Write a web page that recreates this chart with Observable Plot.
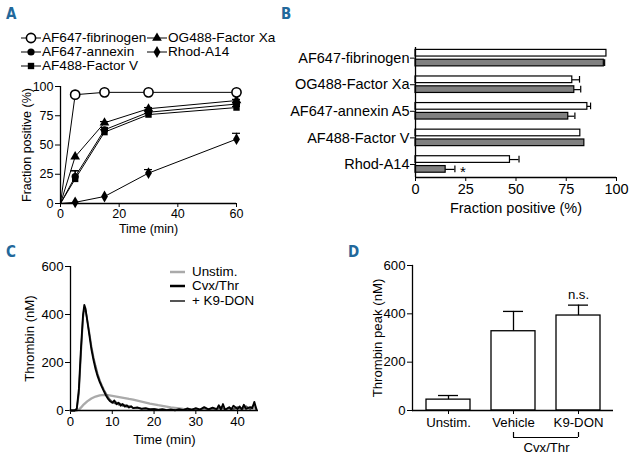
<!DOCTYPE html>
<html><head><meta charset="utf-8">
<script src="https://cdn.jsdelivr.net/npm/d3@7"></script>
<script src="https://cdn.jsdelivr.net/npm/@observablehq/plot@0.6"></script>
<style>
html,body{margin:0;padding:0;background:#fff;}
#fig{position:relative;width:637px;height:464px;overflow:hidden;font-family:"Liberation Sans",Arial,Helvetica,sans-serif;color:#000;}
.tag{position:absolute;font-family:"DejaVu Sans Condensed","DejaVu Sans",sans-serif;font-weight:bold;font-size:15px;line-height:16px;color:#22689b;}
.lg{position:absolute;white-space:nowrap;line-height:12px;}
</style></head><body><div id="fig"></div>
<script>
// ---------------- DATA ----------------
// Panel A: time course (min) vs fraction positive (%), upper error bars
const timeA = [0, 5, 15, 30, 60];
const fibrinogenA = [0, 93, 95, 95, 95];
const annexinA = [0, 23, 63, 78, 85];
const factorVA = [0, 21, 61, 76, 82];
const factorXaA = [0, 40, 69, 81, 88];
const rhodA14A = [0, 1, 6, 26, 55];
const fibrinogenErrA = [0, 0, 0, 0, 0];
const annexinErrA = [0, 5, 2, 1, 1];
const factorVErrA = [0, 7, 2, 1, 1];
const factorXaErrA = [0, 0, 1, 1, 1];
const rhodA14ErrA = [0, 0, 0, 3, 5];

// Panel B: fraction positive (%) per probe, two conditions (open / grey bars)
const catsB = ["AF647-fibrinogen", "OG488-Factor Xa", "AF647-annexin A5", "AF488-Factor V", "Rhod-A14"];
const openB = [95, 78, 85.5, 82, 47];
const openErrB = [0, 3.6, 1.6, 0, 4.5];
const greyB = [93.7, 79, 76, 84, 15];
const greyErrB = [0.4, 3.2, 3.3, 0, 4.6];

// Panel C: thrombin generation curves [time (min), thrombin (nM)]
const unstimC = [[0,0],[1.5,0],[2,4],[2.5,12],[3,22],[4,38],[5,50],[6,58],[7,63],[8,65],[9,64],[10,61],[11,58],[12,55],[13,52],[14,48],[15,45],[16,41],[17,37],[18,33],[19,29],[20,26],[21,22],[22,19],[23,16],[24,13],[25,11],[26,9],[27,7],[28,6],[29,5],[30,4],[31,3],[32,4],[33,3],[34,5],[35,4],[36,6],[37,4],[38,7],[39,5],[40,8],[41,6],[42,9],[43,7],[44,10],[44.5,6]];
const cvxThrC = [[0,0],[1,0],[1.5,8],[2,90],[2.5,260],[3,400],[3.3,440],[3.6,425],[4,375],[4.5,315],[5,255],[5.5,210],[6,172],[6.5,142],[7,118],[7.5,98],[8,80],[8.5,62],[9,48],[9.5,38],[10,32],[10.5,42],[11,26],[11.5,33],[12,20],[12.5,27],[13,16],[13.5,22],[14,12],[14.5,18],[15,10],[16,12],[17,7],[18,9],[19,5],[20,6],[21,3],[22,5],[23,2],[24,4],[25,1],[26,5],[27,2],[28,8],[29,3],[30,10],[31,4],[32,14],[33,5],[34,12],[35,6],[35.5,22],[36,4],[36.5,27],[37,3],[38,14],[38.5,4],[39,20],[40,6],[40.5,17],[41,5],[41.5,24],[42,7],[43,14],[43.5,9],[44,36],[44.5,5]];
const k9donC = [[0,0],[1,0],[1.5,5],[2,70],[2.5,235],[3,385],[3.3,428],[3.6,418],[4,380],[4.5,325],[5,268],[5.5,222],[6,185],[6.5,152],[7,126],[7.5,105],[8,86],[8.5,70],[9,55],[9.5,44],[10,36],[10.5,30],[11,34],[11.5,24],[12,28],[12.5,19],[13,23],[13.5,15],[14,18],[15,11],[16,13],[17,8],[18,10],[19,6],[20,7],[21,4],[22,6],[23,3],[24,5],[25,2],[26,6],[27,3],[28,9],[29,4],[30,7],[31,3],[32,11],[33,4],[34,9],[35,5],[36,16],[37,4],[38,12],[39,6],[40,14],[41,5],[42,18],[43,6],[44,26],[44.5,4]];

// Panel D: thrombin peak (nM)
const groupsD = ["Unstim.", "Vehicle", "K9-DON"];
const peakD = [45, 328, 393];
const peakErrD = [17, 82, 43];

// ---------------- HELPERS ----------------
const FONT = '"Liberation Sans", Arial, Helvetica, sans-serif';
const fig = document.getElementById("fig");
function place(node, left, top) {
  node.style.position = "absolute";
  node.style.left = left + "px";
  node.style.top = top + "px";
  fig.appendChild(node);
  return node;
}
function styleFor(size) {
  return {fontSize: size + "px", fontFamily: FONT, color: "#000", background: "transparent", overflow: "visible"};
}
function tag(txt, left, top) {
  const d = document.createElement("div");
  d.className = "tag"; d.textContent = txt;
  d.style.left = left + "px"; d.style.top = top + "px";
  fig.appendChild(d);
}
function legendText(txt, left, cy, size) {
  const d = document.createElement("div");
  d.className = "lg"; d.textContent = txt;
  d.style.fontSize = size + "px";
  d.style.left = left + "px"; d.style.top = (cy - 6) + "px";
  fig.appendChild(d);
}

// ---------------- PANEL A ----------------
const seriesA = [
  {name: "AF647-fibrinogen", mean: fibrinogenA, err: fibrinogenErrA},
  {name: "AF647-annexin", mean: annexinA, err: annexinErrA},
  {name: "AF488-Factor V", mean: factorVA, err: factorVErrA},
  {name: "OG488-Factor Xa", mean: factorXaA, err: factorXaErrA},
  {name: "Rhod-A14", mean: rhodA14A, err: rhodA14ErrA}
];
const symbolOf = {"AF647-fibrinogen": "circle", "AF647-annexin": "circle", "AF488-Factor V": "square", "OG488-Factor Xa": "triangle", "Rhod-A14": "diamond"};
const openSeries = "AF647-fibrinogen";
const rowsA = seriesA.flatMap(s => timeA.map((t, j) => ({series: s.name, t, v: s.mean[j], e: s.err[j]})));
const filledNames = seriesA.map(s => s.name).filter(n => n !== openSeries);

const plotA = Plot.plot({
  width: 245, height: 160, marginLeft: 60, marginRight: 9, marginTop: 11, marginBottom: 32,
  style: styleFor(12.5),
  x: {domain: [0, 60], ticks: [0, 20, 40, 60], tickSize: 4, tickPadding: 2, label: "Time (min)", labelAnchor: "center", labelOffset: 29, labelArrow: "none"},
  y: {domain: [0, 100], ticks: [0, 25, 50, 75, 100], tickSize: 5, tickPadding: 2, label: "Fraction positive (%)", labelAnchor: "center", labelOffset: 38, labelArrow: "none"},
  symbol: {domain: filledNames, range: filledNames.map(n => symbolOf[n])},
  marks: [
    Plot.ruleX([0], {stroke: "#000", strokeWidth: 1.3}),
    Plot.ruleY([0], {stroke: "#000", strokeWidth: 1.3}),
    Plot.line(rowsA, {x: "t", y: "v", z: "series", stroke: "#000", strokeWidth: 1}),
    Plot.ruleX(rowsA.filter(d => d.e > 0), {x: "t", y1: "v", y2: d => d.v + d.e, stroke: "#000", strokeWidth: 1.2}),
    Plot.ruleY(rowsA.filter(d => d.e > 0), {y: d => d.v + d.e, x1: "t", x2: "t", insetLeft: -4, insetRight: -4, stroke: "#000", strokeWidth: 1.2}),
    Plot.dot(rowsA.filter(d => d.t > 0 && d.series !== openSeries), {x: "t", y: "v", symbol: "series", fill: "#000", r: 3.6}),
    Plot.dot(rowsA.filter(d => d.t > 0 && d.series === openSeries), {x: "t", y: "v", symbol: "circle", fill: "#fff", stroke: "#000", strokeWidth: 1.6, r: 4.6})
  ]
});
place(plotA, 0, 75);

// legend A
const d3sym = {circle: d3.symbolCircle, square: d3.symbolSquare, triangle: d3.symbolTriangle, diamond: d3.symbolDiamond};
function legendSymbol(name, cx, cy) {
  const open = name === openSeries;
  const r = open ? 4.6 : 3.6;
  const svg = d3.create("svg").attr("width", 22).attr("height", 14);
  svg.append("line").attr("x1", 1).attr("x2", 21).attr("y1", 7).attr("y2", 7).attr("stroke", "#000");
  svg.append("path").attr("transform", "translate(11,7)")
    .attr("d", d3.symbol(d3sym[symbolOf[name]], Math.PI * r * r)())
    .attr("fill", open ? "#fff" : "#000").attr("stroke", open ? "#000" : "none").attr("stroke-width", 1.6);
  place(svg.node(), cx - 11, cy - 7);
}
const legendA = [
  ["AF647-fibrinogen", 31, 42, 38], ["OG488-Factor Xa", 157, 168, 38],
  ["AF647-annexin", 31, 42, 52], ["Rhod-A14", 157, 168, 52],
  ["AF488-Factor V", 31, 42, 66]
];
legendA.forEach(([n, cx, tx, cy]) => { legendSymbol(n, cx, cy); legendText(n, tx, cy, 13.6); });

// ---------------- PANEL B ----------------
const yDomB = [-0.4, 4.49];
const rowsB = catsB.flatMap((c, i) => [
  {cat: c, i, cond: "open", v: openB[i], e: openErrB[i]},
  {cat: c, i, cond: "grey", v: greyB[i], e: greyErrB[i]}
]);
const barTop = d => d.i + (d.cond === "open" ? -0.31 : 0.06);
const barBot = d => d.i + (d.cond === "open" ? -0.06 : 0.31);
const barMid = d => (barTop(d) + barBot(d)) / 2;
const plotB = Plot.plot({
  width: 357, height: 175, marginLeft: 135, marginRight: 21, marginTop: 7, marginBottom: 38,
  style: styleFor(14.5),
  x: {domain: [0, 100], ticks: [0, 25, 50, 75, 100], tickSize: 4, tickPadding: 2, label: "Fraction positive (%)", labelAnchor: "center", labelOffset: 35, labelArrow: "none"},
  y: {domain: yDomB, reverse: true, ticks: [0, 1, 2, 3, 4], tickFormat: i => catsB[i], tickSize: 5, tickPadding: 1, label: null},
  marks: [
    Plot.ruleY(rowsB.filter(d => d.e > 0), {y: barMid, x1: "v", x2: d => d.v + d.e, stroke: "#000", strokeWidth: 1.2}),
    Plot.ruleX(rowsB.filter(d => d.e > 0), {x: d => d.v + d.e, y1: barTop, y2: barBot, stroke: "#000", strokeWidth: 1.2}),
    Plot.rect(rowsB.filter(d => d.cond === "open"), {x1: () => 0, x2: "v", y1: barTop, y2: barBot, fill: "#fff", stroke: "#000", strokeWidth: 1.2}),
    Plot.rect(rowsB.filter(d => d.cond === "grey"), {x1: () => 0, x2: "v", y1: barTop, y2: barBot, fill: "#808080", stroke: "#000", strokeWidth: 1.2}),
    Plot.text(rowsB.filter(d => d.cond === "grey" && d.cat === "Rhod-A14"), {x: d => d.v + d.e, y: barMid, text: () => "*", dx: 8, dy: 3, fontSize: 15}),
    Plot.ruleX([0], {stroke: "#000", strokeWidth: 1.3}),
    Plot.ruleY([yDomB[1]], {stroke: "#000", strokeWidth: 1.3})
  ]
});
place(plotB, 280, 40);

// ---------------- PANEL C ----------------
const plotC = Plot.plot({
  width: 300, height: 190, marginLeft: 70, marginRight: 42, marginTop: 11, marginBottom: 35,
  style: styleFor(13.2),
  x: {domain: [0, 45], ticks: [0, 10, 20, 30, 40], tickSize: 4, tickPadding: 2, label: "Time (min)", labelAnchor: "center", labelOffset: 33, labelArrow: "none"},
  y: {domain: [0, 600], ticks: [0, 200, 400, 600], tickSize: 5, tickPadding: 2, label: "Thrombin (nM)", labelAnchor: "center", labelOffset: 46, labelArrow: "none"},
  marks: [
    Plot.line(unstimC, {x: d => d[0], y: d => d[1], stroke: "#aaaaaa", strokeWidth: 2.3}),
    Plot.line(k9donC, {x: d => d[0], y: d => d[1], stroke: "#555555", strokeWidth: 1.8}),
    Plot.line(cvxThrC, {x: d => d[0], y: d => d[1], stroke: "#000", strokeWidth: 1.8}),
    Plot.ruleX([0], {stroke: "#000", strokeWidth: 1.3}),
    Plot.ruleY([0], {stroke: "#000", strokeWidth: 1.3})
  ]
});
place(plotC, 0, 255);

// legend C
[["Unstim.", "#aaaaaa", 2.5, 272], ["Cvx/Thr", "#000", 2.5, 286], ["+ K9-DON", "#555555", 2, 301]].forEach(([t, c, w, cy]) => {
  const svg = d3.create("svg").attr("width", 16).attr("height", 6);
  svg.append("line").attr("x1", 0).attr("x2", 15).attr("y1", 3).attr("y2", 3).attr("stroke", c).attr("stroke-width", w);
  place(svg.node(), 170, cy - 3);
  legendText(t, 192, cy, 13.4);
});

// ---------------- PANEL D ----------------
const rowsD = groupsD.map((g, i) => ({g, v: peakD[i], e: peakErrD[i]}));
const plotD = Plot.plot({
  width: 317, height: 200, marginLeft: 92, marginRight: 24, marginTop: 10, marginBottom: 45,
  style: styleFor(13.2),
  x: {domain: groupsD, paddingInner: 0.33, paddingOuter: 0.2, tickSize: 4, tickPadding: 3, label: null},
  y: {domain: [0, 600], ticks: [0, 200, 400, 600], tickSize: 5, tickPadding: 2, label: "Thrombin peak (nM)", labelAnchor: "center", labelOffset: 40, labelArrow: "none"},
  marks: [
    Plot.ruleX(rowsD, {x: "g", y1: "v", y2: d => d.v + d.e, stroke: "#000", strokeWidth: 1.3}),
    Plot.ruleY(rowsD, {x1: "g", x2: "g", y: d => d.v + d.e, insetLeft: 12, insetRight: 12, stroke: "#000", strokeWidth: 1.3}),
    Plot.barY(rowsD, {x: "g", y1: () => 0, y2: "v", fill: "#fff", stroke: "#000", strokeWidth: 1.3}),
    Plot.text(rowsD.filter(d => d.g === "K9-DON"), {x: "g", y: d => d.v + d.e, dy: -10, text: () => "n.s."}),
    Plot.ruleY([{a: "Vehicle", b: "K9-DON"}], {x1: "a", x2: "b", y: () => 0, dy: 27, insetLeft: 22, insetRight: 22, stroke: "#000", strokeWidth: 1.2}),
    Plot.ruleX(["Vehicle", "K9-DON"], {x: d => d, y1: () => 0, y2: () => 0, insetTop: 22, insetBottom: -27, stroke: "#000", strokeWidth: 1.2}),
    Plot.text(["Vehicle"], {x: d => d, y: () => 0, dx: 33, dy: 37, text: () => "Cvx/Thr"}),
    Plot.frame({anchor: "left", stroke: "#000", strokeWidth: 1.3}),
    Plot.ruleY([0], {stroke: "#000", strokeWidth: 1.3})
  ]
});
place(plotD, 320, 255);

// ---------------- PANEL TAGS ----------------
tag("A", 6, 6);
tag("B", 281, 6);
tag("C", 6, 244);
tag("D", 348, 244);
</script></body></html>
